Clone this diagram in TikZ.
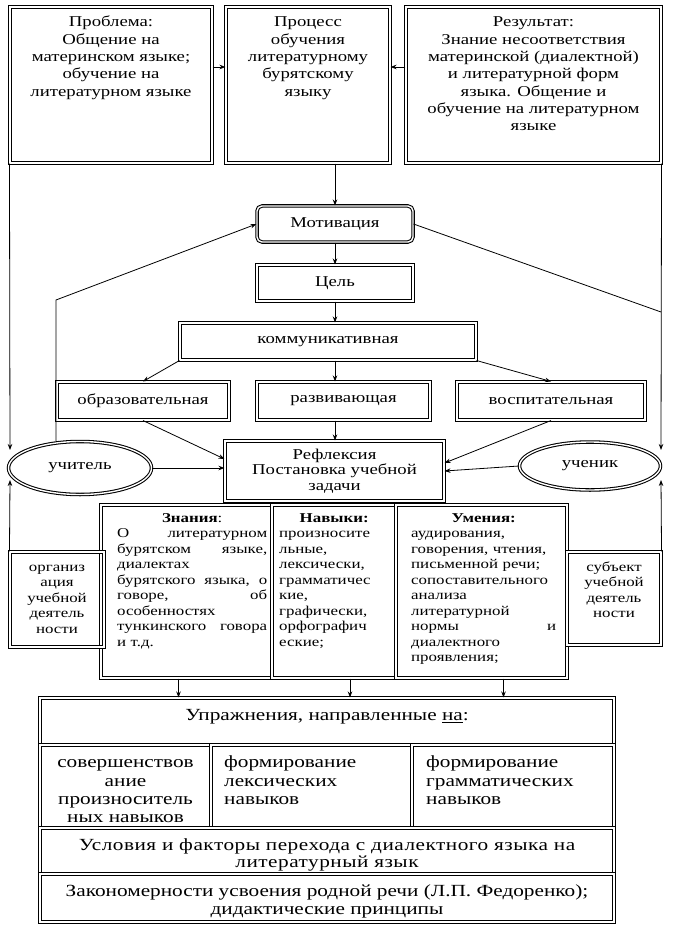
\documentclass[tikz,border=0pt]{standalone}
\usepackage{fontspec}
\setmainfont{Liberation Serif}[FakeStretch=1.25]
\usetikzlibrary{arrows.meta,shapes.geometric,fit}
\begin{document}
\begin{tikzpicture}[x=1pt,y=-1pt,
  dbl/.style={draw, double, double distance=1.4pt, line width=1.05pt},
  bx/.style={dbl, rectangle, inner sep=0pt},
  fmain/.style={font=\fontsize{15}{17.3}\selectfont},
  fsmall/.style={font=\fontsize{13.5}{15.5}\selectfont},
  fbig/.style={font=\fontsize{17}{18.2}\selectfont},
  tx/.style={inner sep=0pt, align=center, fmain},
  arr/.style={line width=0.8pt, -{Stealth[length=6pt,width=4.5pt]}},
  ln/.style={line width=0.8pt},
]
\useasboundingbox (0,0) rectangle (683,933);

% top boxes
\node[bx, fit={(10,7) (212,163)}] (prob) {};
\node[bx, fit={(226,7) (390,163)}] (proc) {};
\node[bx, fit={(406,7) (661,163)}] (res) {};
\node[tx, anchor=north] (probt) at (111,14.5) {\strut Проблема:\\Общение на\\материнском языке;\\обучение на\\литературном языке};
\node[tx, anchor=north] (proct) at (308,14.5) {\strut Процесс\\обучения\\литературному\\бурятскому\\языку};
\node[tx, anchor=north] (rest) at (533.5,14.5) {\strut Результат:\\Знание несоответствия\\материнской (диалектной)\\и литературной форм\\языка. Общение и\\обучение на литературном\\языке};

% middle chain
\node[bx, rounded corners=5pt, minimum width=156pt, minimum height=36pt, fmain] (motiv) at (335,224) {Мотивация};
\node[bx, minimum width=156pt, minimum height=36pt, fmain] (cel) at (335,283) {Цель};
\node[bx, minimum width=296pt, minimum height=37pt, fmain] (komm) at (328,341.5) {коммуникативная};
\node[bx, minimum width=172pt, minimum height=38pt, fmain] (obr) at (143,401) {образовательная};
\node[bx, minimum width=173pt, minimum height=38pt, fmain] (raz) at (343.5,401) {развивающая};
\node[bx, minimum width=188pt, minimum height=38pt, fmain] (vos) at (551,401) {воспитательная};
\node[bx, minimum width=219pt, minimum height=60pt, align=center, font=\fontsize{15}{15.5}\selectfont] (refl) at (334.5,471) {Рефлексия\\Постановка учебной\\задачи};
\node[dbl, ellipse, minimum width=143pt, minimum height=53pt, inner sep=0pt, fmain] (uch) at (80,468) {учитель};
\node[dbl, ellipse, minimum width=141pt, minimum height=48pt, inner sep=0pt, fmain] (uchen) at (590,466) {ученик};

% columns
\node[bx, fit={(101,505) (272,678)}] (zn) {};
\node[bx, fit={(272,505) (396,678)}] (nav) {};
\node[bx, fit={(396,505) (567,678)}] (um) {};
\node[bx, fit={(10,552) (104,647)}] (org) {};
\node[bx, fit={(567,552) (661,645)}] (sub) {};

\node[fsmall, anchor=north west, inner sep=0pt, text width=150pt, align=left] (znt) at (117,511)
 {\makebox[\linewidth]{\strut\textbf{Знания}:}\\
  О\hfill литературном\\
  бурятском\hfill языке,\\
  диалектах\\
  бурятского\hfill языка,\hfill о\\
  говоре,\hfill об\\
  особенностях\\
  тункинского\hfill говора\\
  и т.д.};
\node[fsmall, anchor=north west, inner sep=0pt, text width=110pt, align=left] (navt) at (279,511)
 {\makebox[\linewidth]{\strut\textbf{Навыки:}}\\
  произносите\\ льные,\\ лексически,\\ грамматичес\\ кие,\\ графически,\\ орфографич\\ еские;};
\node[fsmall, anchor=north west, inner sep=0pt, text width=145pt, align=left] (umt) at (411,511)
 {\makebox[\linewidth]{\strut\textbf{Умения:}}\\
  аудирования,\\ говорения, чтения,\\ письменной речи;\\ сопоставительного\\ анализа\\ литературной\\
  нормы\hfill и\\ диалектного\\ проявления;};
\node[fsmall, anchor=north, inner sep=0pt, align=center] (orgt) at (57,560) {\strut организ\\ация\\учебной\\деятель\\ности};
\node[fsmall, anchor=north, inner sep=0pt, align=center] (subt) at (614,560) {\strut субъект\\учебной\\деятель\\ности};

% bottom block
\node[bx, fit={(40,698) (614,745)}] (upr) {};
\node[tx, fbig] (uprt) at (327,717) {Упражнения, направленные \underline{на}:};
\node[bx, fit={(40,745) (211,828)}] (sov) {};
\node[bx, fit={(211,745) (412,828)}] (flex) {};
\node[bx, fit={(412,745) (614,828)}] (fgr) {};
\node[tx, anchor=north, fbig] (sovt) at (125.5,755) {\strut совершенствов\\ание\\произноситель\\ных навыков};
\node[tx, anchor=north west, align=left, fbig] (flext) at (224,755) {\strut формирование\\лексических\\навыков};
\node[tx, anchor=north west, align=left, fbig] (fgrt) at (426,755) {\strut формирование\\грамматических\\навыков};
\node[bx, fit={(40,828) (614,874)}] (usl) {};
\node[tx, font=\fontsize{17}{17}\selectfont\addfontfeatures{LetterSpace=3}] (uslt) at (327,855) {Условия и факторы перехода с диалектного языка на\\литературный язык};
\node[bx, fit={(40,874) (614,922)}] (zak) {};
\node[tx, font=\fontsize{17}{18}\selectfont] (zakt) at (327,901) {Закономерности усвоения родной речи (Л.П. Федоренко);\\дидактические принципы};

% free-end coordinates
\coordinate (lt) at (10,450);
\coordinate (lb) at (10,480);
\coordinate (rt) at (661,450);
\coordinate (rb) at (661,480);
\coordinate (rm) at (661,312);
\coordinate (lk) at (56,300);

% connectors
\draw[arr] ([yshift=18pt]prob.east) -- ([yshift=18pt]proc.west);
\draw[arr] ([yshift=18pt]res.west) -- ([yshift=18pt]proc.east);
\draw[arr] (proc.south -| motiv.north) -- (motiv.north);
\draw[arr] (motiv) -- (cel);
\draw[arr] (cel.south) -- (cel.south |- komm.north);
\draw[arr] (komm.south west) -- (obr.north);
\draw[arr] (komm.south -| cel.south) -- (raz.north -| cel.south);
\draw[arr] (komm.south east) -- (vos.north);
\draw[arr] (obr.south) -- ([yshift=12pt]refl.west);
\draw[arr] (raz.south -| cel.south) -- (refl.north -| cel.south);
\draw[arr] (vos.south) -- ([yshift=8pt]refl.east);
\draw[arr] (uch.east) -- (uch.east -| refl.west);
\draw[arr] (uchen.west) -- (refl.east);
\draw[arr] (prob.south west) -- (lt);
\draw[arr] (res.south east) -- (rt);
\draw[ln] (motiv.east) -- (rm);
\draw[arr] ([xshift=-24pt]uch.north) -- (lk) -- (motiv.west);
\draw[arr] (org.north west) -- (lb);
\draw[arr] (sub.north east) -- (rb);
\draw[arr] ([xshift=-8pt]zn.south) -- ([xshift=-8pt]zn.south |- upr.north);
\draw[arr] ([xshift=16pt]nav.south) -- ([xshift=16pt]nav.south |- upr.north);
\draw[arr] ([xshift=22pt]um.south) -- ([xshift=22pt]um.south |- upr.north);
\end{tikzpicture}
\end{document}
